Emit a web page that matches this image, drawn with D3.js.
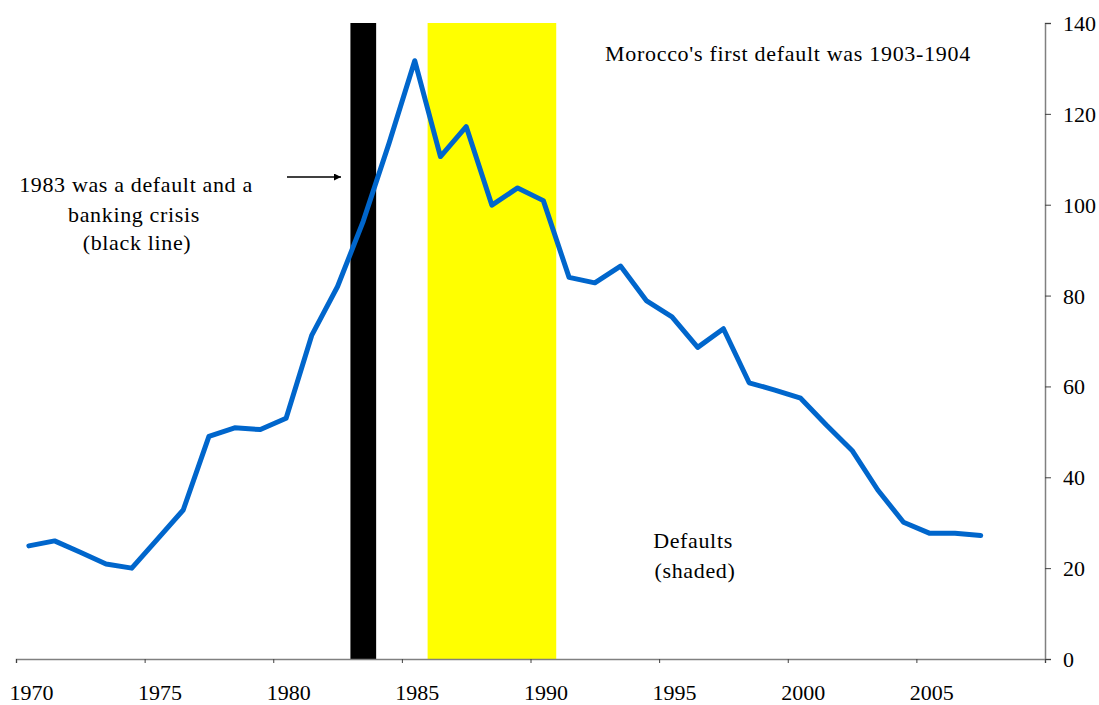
<!DOCTYPE html>
<html>
<head>
<meta charset="utf-8">
<script src="https://cdn.jsdelivr.net/npm/d3@7"></script>
<style>
  body { margin: 0; background: #fff; }
  svg text { font-family: "Liberation Serif", "Times New Roman", serif; fill: #000; }
</style>
</head>
<body>
<svg id="chart" width="1099" height="705"></svg>
<script>
// Morocco: external debt series, 1970-2007
const years = d3.range(1970, 2008);
const debt = [
  24.9, 26.0, 23.5, 20.9, 20.0, 26.4, 32.8, 49.0, 50.9, 50.5,
  53.0, 71.3, 82.0, 96.4, 113.5, 131.7, 110.6, 117.2, 99.9, 103.7,
  100.9, 84.0, 82.8, 86.5, 78.9, 75.3, 68.6, 72.7, 60.8, 59.2,
  57.4, 51.5, 45.9, 37.2, 30.1, 27.7, 27.7, 27.2
];
// Crisis episodes (inclusive year ranges)
const bankingDefault = [1983, 1983];
const defaultSpan = [1986, 1990];
const xTickYears = [1970, 1975, 1980, 1985, 1990, 1995, 2000, 2005, 2010];
const xTickLabels = ["1970", "1975", "1980", "1985", "1990", "1995", "2000", "2005", ""];
const yTicks = [0, 20, 40, 60, 80, 100, 120, 140];

const svg = d3.select("#chart");
const plotLeft = 16, plotRight = 1045, plotTop = 23, plotBottom = 659;

// Each year occupies one band; values sit at the band centre.
const x = d3.scaleLinear().domain([1970, 2010]).range([plotLeft, plotRight]);
const y = d3.scaleLinear().domain([0, 140]).range([plotBottom, plotTop]);
const band = x(1971) - x(1970);

// Shaded crisis bands
svg.append("rect")
  .attr("x", x(bankingDefault[0])).attr("y", y(140))
  .attr("width", x(bankingDefault[1] + 1) - x(bankingDefault[0]))
  .attr("height", y(0) - y(140))
  .attr("fill", "#000");
svg.append("rect")
  .attr("x", x(defaultSpan[0])).attr("y", y(140))
  .attr("width", x(defaultSpan[1] + 1) - x(defaultSpan[0]))
  .attr("height", y(0) - y(140))
  .attr("fill", "#ffff00");

// X axis
const xAxis = svg.append("g")
  .attr("transform", `translate(0,${plotBottom})`)
  .call(d3.axisBottom(x).tickValues(xTickYears).tickSize(4)
    .tickFormat((d, i) => xTickLabels[i]));
xAxis.select(".domain").attr("stroke", "#808080").attr("stroke-width", 1.5);
xAxis.selectAll(".tick line").attr("stroke", "#404040");
xAxis.selectAll(".tick text")
  .attr("font-size", 22).attr("dy", 0).attr("y", 41)
  .attr("x", band / 2 + 2);

// Y axis on the right
const yAxis = svg.append("g")
  .attr("transform", `translate(${plotRight},0)`)
  .call(d3.axisRight(y).tickValues(yTicks).tickSize(6).tickPadding(12));
yAxis.select(".domain").attr("stroke", "#808080").attr("stroke-width", 1.5);
yAxis.selectAll(".tick line").attr("stroke", "#404040");
yAxis.selectAll(".tick text").attr("font-size", 22).attr("dy", "0.34em");

// Debt line
const line = d3.line()
  .x((d, i) => x(years[i]) + band / 2)
  .y(d => y(d));
svg.append("path")
  .datum(debt)
  .attr("fill", "none")
  .attr("stroke", "#0066cc")
  .attr("stroke-width", 5)
  .attr("stroke-linejoin", "round")
  .attr("stroke-linecap", "round")
  .attr("d", line);

// Annotations
svg.append("text")
  .attr("x", 605).attr("y", 61)
  .attr("font-size", 22).attr("letter-spacing", 0.7)
  .text("Morocco's first default was 1903-1904");

const note = svg.append("text").attr("font-size", 22)
  .attr("letter-spacing", 0.65).attr("text-anchor", "middle");
note.append("tspan").attr("x", 136).attr("y", 192).text("1983 was a default and a");
note.append("tspan").attr("x", 134).attr("y", 222).text("banking crisis");
note.append("tspan").attr("x", 137).attr("y", 250).text("(black line)");

const defs = svg.append("defs");
defs.append("marker")
  .attr("id", "arrow").attr("viewBox", "0 0 10 10")
  .attr("refX", 10).attr("refY", 5)
  .attr("markerWidth", 8).attr("markerHeight", 7)
  .attr("markerUnits", "userSpaceOnUse")
  .attr("orient", "auto")
  .append("path").attr("d", "M0,0 L10,5 L0,10 Z").attr("fill", "#000");
svg.append("line")
  .attr("x1", 287).attr("y1", 177).attr("x2", 341).attr("y2", 177)
  .attr("stroke", "#000").attr("stroke-width", 1.5)
  .attr("marker-end", "url(#arrow)");

const shaded = svg.append("text").attr("font-size", 22)
  .attr("letter-spacing", 0.65).attr("text-anchor", "middle");
shaded.append("tspan").attr("x", 693).attr("y", 548).text("Defaults");
shaded.append("tspan").attr("x", 695).attr("y", 578).text("(shaded)");
</script>
</body>
</html>
